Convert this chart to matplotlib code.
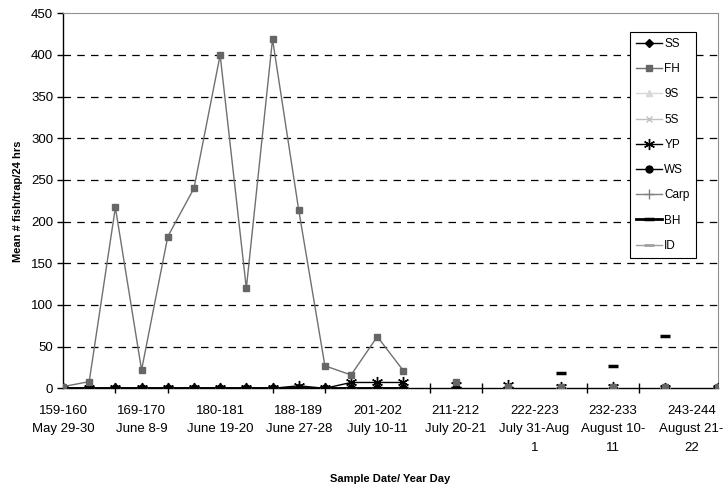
import numpy as np
import matplotlib
matplotlib.use("Agg")
import matplotlib.pyplot as plt

plt.rcParams['font.family'] = ['Liberation Sans', 'DejaVu Sans']

nan = np.nan
# 26 category slots (year-day samples); gaps are NaN
tick_labels = ["159-160\nMay 29-30", "169-170\nJune 8-9", "180-181\nJune 19-20",
               "188-189\nJune 27-28", "201-202\nJuly 10-11", "211-212\nJuly 20-21",
               "222-223\nJuly 31-Aug\n1", "232-233\nAugust 10-\n11", "243-244\nAugust 21-\n22"]

SS   = [0]*14 + [nan, 0, nan, 0, nan, 0, nan, 0, nan, 0, nan, 0]
FH   = [2, 8, 217, 22, 182, 240, 400, 120, 419, 214, 27, 16, 62, 21,
        nan, 8, nan, 1, nan, 1, nan, 1, nan, 1, nan, 1]
S9   = [0]*14 + [nan, 0, nan, 0, nan, 0, nan, 0, nan, 0, nan, 0]
S5   = [0]*14 + [nan, 0, nan, 0, nan, 0, nan, 0, nan, 0, nan, 0]
YP   = [0, 0, 0, 0, 0, 0, 0, 0, 0, 3, 0, 7, 7, 7,
        nan, 4, nan, 4, nan, 2, nan, 1, nan, 0, nan, 0]
WS   = [0]*14 + [nan, 0, nan, 0, nan, 0, nan, 0, nan, 0, nan, 0]
Carp = [0]*14 + [nan, 0, nan, 0, nan, 0, nan, 0, nan, 0, nan, 0]
BH   = [0]*14 + [nan, 0, nan, 0, nan, 18, nan, 27, nan, 63, nan, 0]
ID   = [0]*14 + [nan, 0, nan, 0, nan, 0, nan, 0, nan, 0, nan, 0]

x = np.arange(len(FH))

fig = plt.figure(figsize=(7.25, 4.88), dpi=100)
ax = fig.add_axes([0.0869, 0.2043, 0.9031, 0.7684])

ax.plot(x, ID, color='#a0a0a0', lw=1, marker='_', ms=7, mew=2, label='ID', zorder=3)
ax.plot(x, Carp, color='#808080', lw=1, marker='+', ms=7, mew=1, label='Carp', zorder=3)
ax.plot(x, S5, color='#c0c0c0', lw=1, marker='x', ms=5, mew=1, label='5S', zorder=3)
ax.plot(x, S9, color='#d8d8d8', lw=1, marker='^', ms=5, label='9S', zorder=3)
ax.plot(x, WS, color='black', lw=1, marker='o', ms=5, label='WS', zorder=3)
ax.plot(x, SS, color='black', lw=1, marker='D', ms=4.5, label='SS', zorder=3)
ax.plot(x, BH, color='black', lw=2, marker='_', ms=7, mew=2.5, label='BH', zorder=3)
ax.plot(x, YP, color='black', lw=1, marker=(6, 2, 0), ms=8, mew=1, label='YP', zorder=4)
ax.plot(x, FH, color='#707070', lw=1, marker='s', ms=5, mfc='#666666', mec='#666666', label='FH', zorder=5)

ax.set_xlim(0, len(FH) - 1)
ax.set_ylim(0, 450)
ax.set_yticks(np.arange(0, 451, 50))
ax.tick_params(axis='y', direction='out', length=4, width=1, labelsize=9.5, pad=3)
ax.set_xticks(np.arange(0, len(FH), 3))
ax.set_xticklabels(tick_labels, fontsize=9.5, linespacing=1.7)
ax.tick_params(axis='x', which='major', length=0, pad=12)
ax.set_xticks(np.arange(0, len(FH), 2), minor=True)
ax.tick_params(axis='x', which='minor', direction='inout', length=7, width=1)

for yv in np.arange(50, 401, 50):
    ax.axhline(yv, color='black', lw=0.9, dashes=(6, 5), zorder=1)

for s in ['top', 'right']:
    ax.spines[s].set_color('#909090')
for s in ['left', 'bottom']:
    ax.spines[s].set_color('black')
    ax.spines[s].set_linewidth(1)

ax.set_ylabel('Mean # fish/trap/24 hrs', fontsize=8, fontweight='bold', labelpad=6)
fig.text(0.538, 0.012, 'Sample Date/ Year Day', fontsize=8, fontweight='bold', ha='center')

handles, labels = ax.get_legend_handles_labels()
order = ['SS', 'FH', '9S', '5S', 'YP', 'WS', 'Carp', 'BH', 'ID']
hmap = dict(zip(labels, handles))
leg = ax.legend([hmap[k] for k in order], order, loc='upper left',
                bbox_to_anchor=(0.866, 0.950), frameon=True, fancybox=False,
                framealpha=1, edgecolor='black', fontsize=8.5, handlelength=2.2,
                labelspacing=1.12, borderpad=0.5, handletextpad=0.2, borderaxespad=0)
leg.get_frame().set_linewidth(0.8)
leg.set_zorder(10)

fig.savefig('out.png', dpi=100)
